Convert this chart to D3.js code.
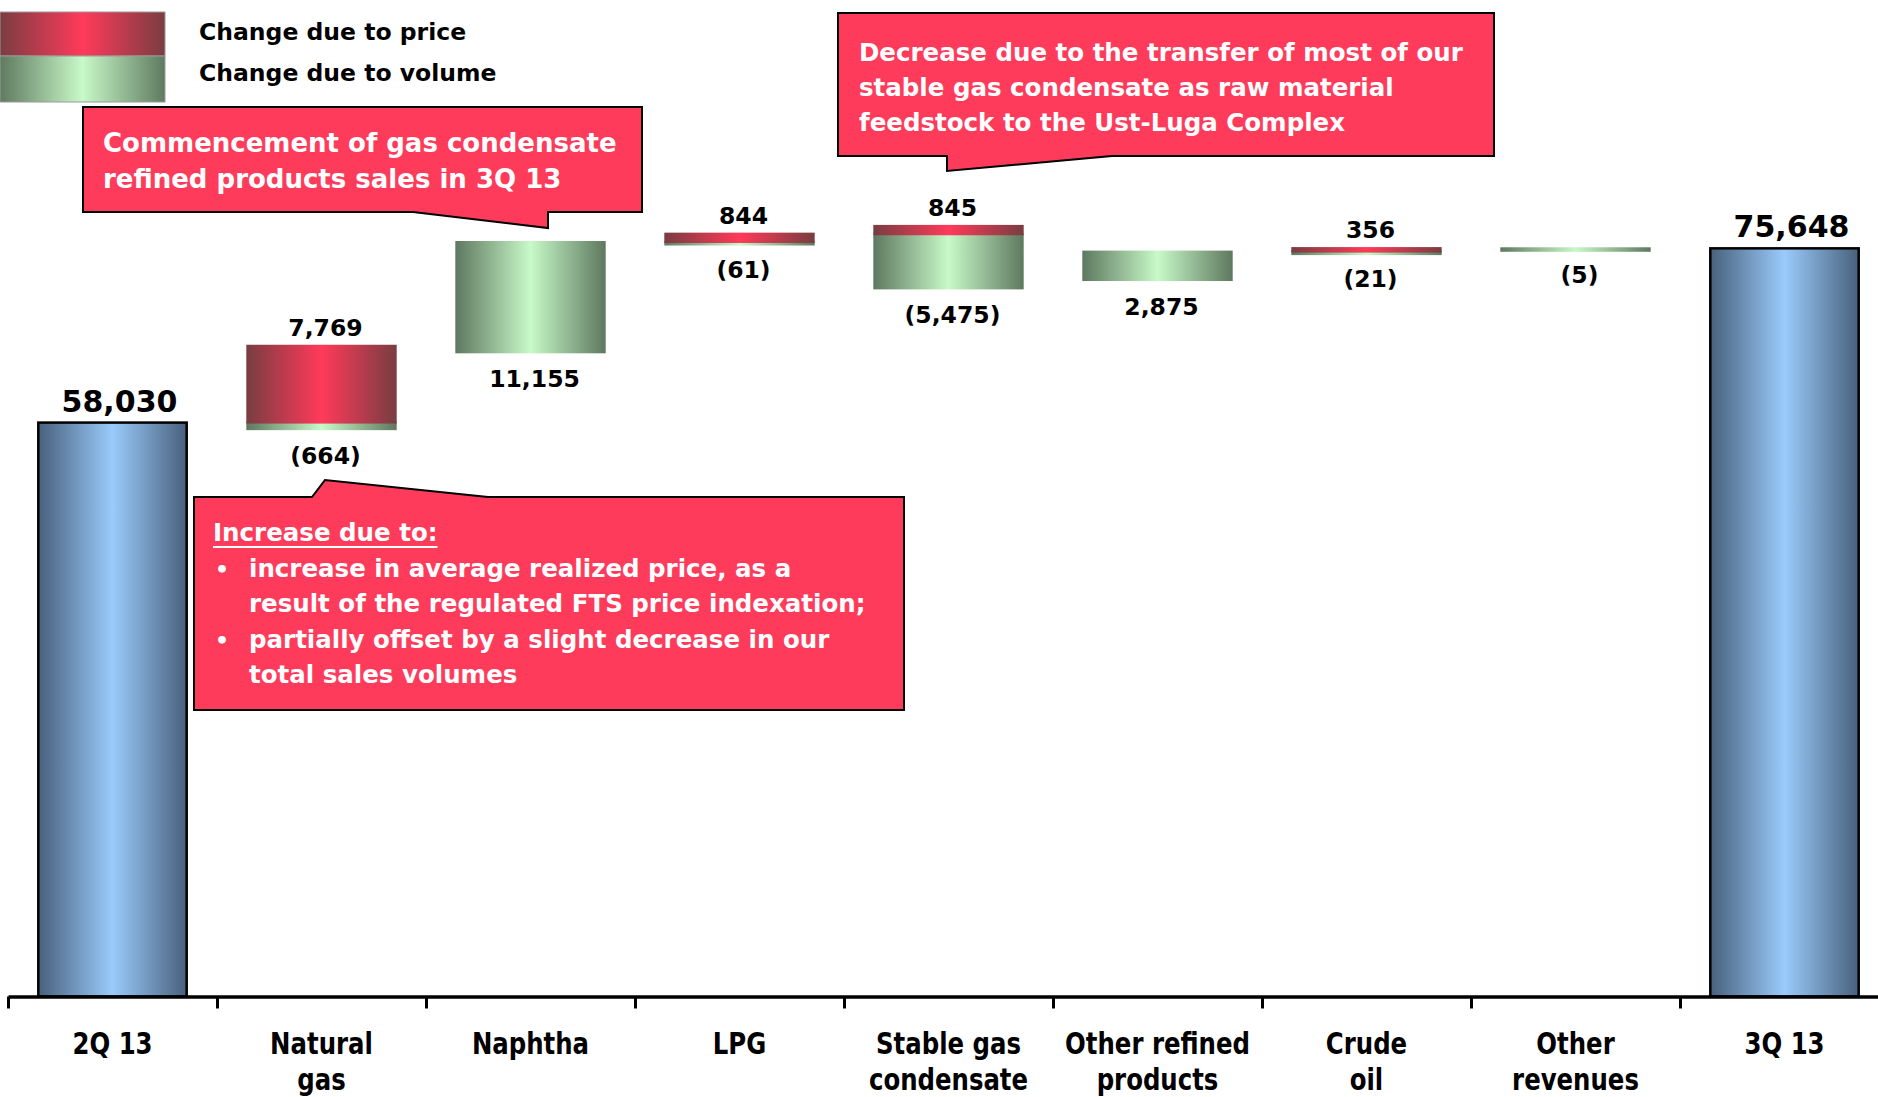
<!DOCTYPE html>
<html>
<head>
<meta charset="utf-8">
<script src="https://cdn.jsdelivr.net/npm/d3@7"></script>
<style>
  body { margin: 0; background: #fff; }
  svg { display: block; font-family: "DejaVu Sans", sans-serif; font-weight: bold; }
</style>
</head>
<body>
<svg></svg>
<script>
// Data
let categories = ["2Q 13", "Natural gas", "Naphtha", "LPG", "Stable gas condensate",
  "Other refined products", "Crude oil", "Other revenues", "3Q 13"];
let categoryLines = [["2Q 13"], ["Natural", "gas"], ["Naphtha"], ["LPG"], ["Stable gas", "condensate"],
  ["Other refined", "products"], ["Crude", "oil"], ["Other", "revenues"], ["3Q 13"]];
let startTotal = 58030;
let endTotal = 75648;
let stepNames = categories.slice(1, 8);
let priceChange = [7769, 0, 844, 845, 0, 356, 0];
let volumeChange = [-664, 11155, -61, -5475, 2875, -21, -5];
let legendLabels = ["Change due to price", "Change due to volume"];

let notes = [
  ["Commencement of gas condensate", "refined products sales in 3Q 13"],
  ["Decrease due to the transfer of most of our", "stable gas condensate as raw material",
   "feedstock to the Ust-Luga Complex"],
  ["increase in average realized price, as a", "result of the regulated FTS price indexation;",
   "partially offset by a slight decrease in our", "total sales volumes"]
];

let width = 1878;
let height = 1097;
let axisY = 996.5;
let calloutFill = "#ff3b5b";

let svg = d3.select("svg").attr("width", width).attr("height", height);

let xScale = d3.scaleBand().domain(categories).range([8, 1889])
  .paddingInner(0.29).paddingOuter(0.145);
let yScale = d3.scaleLinear().domain([0, 100000]).range([axisY, axisY - 989]);

let fmt = d3.format(",");
let label = (v) => (v < 0 ? "(" + fmt(-v) + ")" : fmt(v));

// gradients
let defs = svg.append("defs");
let addGradient = (id, edge, mid) => {
  let g = defs.append("linearGradient").attr("id", id)
    .attr("x1", 0).attr("x2", 1).attr("y1", 0).attr("y2", 0);
  g.append("stop").attr("offset", 0).attr("stop-color", edge);
  g.append("stop").attr("offset", 0.5).attr("stop-color", mid);
  g.append("stop").attr("offset", 1).attr("stop-color", edge);
};
addGradient("gTotal", "#48607c", "#9acbfb");
addGradient("gPrice", "#7a3d41", "#ff3a5a");
addGradient("gVolume", "#5f7a60", "#c8f9c8");

// build waterfall segments
let segments = [];
let level = startTotal;
stepNames.forEach((name, i) => {
  let base = level;
  segments.push({ name: name, kind: "volume", from: base, to: base + volumeChange[i] });
  segments.push({ name: name, kind: "price", from: base, to: base + priceChange[i] });
  level = base + priceChange[i] + volumeChange[i];
});

// callouts (annotation shapes)
let callouts = svg.append("g");
let shapes = [
  [[83, 107], [642, 107], [642, 212], [548, 212], [548, 228], [413, 212], [83, 212]],
  [[838, 13], [1494, 13], [1494, 156], [1112, 156], [947, 171], [947, 156], [838, 156]],
  [[194, 497], [312, 497], [325, 480], [488, 497], [904, 497], [904, 710], [194, 710]]
];
callouts.selectAll("path").data(shapes).enter().append("path")
  .attr("d", (d) => d3.line()(d) + "Z")
  .attr("fill", calloutFill).attr("stroke", "#000").attr("stroke-width", 2);

let noteText = (lines, x, y0, step, size) => {
  callouts.append("g").selectAll("text").data(lines).enter().append("text")
    .attr("x", x).attr("y", (d, i) => y0 + i * step)
    .attr("fill", "#fff").attr("font-size", size).text((d) => d);
};
noteText(notes[0], 103, 152, 36, 26);
noteText(notes[1], 859, 61, 35, 24.5);
let head = callouts.append("text").attr("x", 213).attr("y", 541)
  .attr("fill", "#fff").attr("font-size", 24.5).text("Increase due to:");
let hw = head.node().getComputedTextLength();
callouts.append("line").attr("x1", 213).attr("x2", 213 + hw).attr("y1", 547).attr("y2", 547)
  .attr("stroke", "#fff").attr("stroke-width", 2);
noteText(notes[2], 249, 577, 35.3, 24.5);
callouts.append("g").selectAll("text").data([0, 2]).enter().append("text")
  .attr("x", 215).attr("y", (d) => 577 + d * 35.3)
  .attr("fill", "#fff").attr("font-size", 22).text("\u2022");

// totals
let totals = [{ name: categories[0], value: startTotal }, { name: categories[8], value: endTotal }];
svg.selectAll(".total").data(totals).enter().append("rect")
  .attr("class", "total")
  .attr("x", (d) => xScale(d.name))
  .attr("width", xScale.bandwidth())
  .attr("y", (d) => yScale(d.value))
  .attr("height", (d) => yScale(0) - yScale(d.value))
  .attr("fill", "url(#gTotal)").attr("stroke", "#000").attr("stroke-width", 2.5);

svg.selectAll(".totalLabel").data(totals).enter().append("text")
  .attr("x", (d) => xScale(d.name) + xScale.bandwidth() / 2 + 7)
  .attr("y", (d) => yScale(d.value) - 11)
  .attr("text-anchor", "middle").attr("font-size", 30)
  .text((d) => fmt(d.value));

// change bars
svg.selectAll(".seg").data(segments.filter((d) => d.to !== d.from)).enter().append("rect")
  .attr("class", "seg")
  .attr("x", (d) => xScale(d.name))
  .attr("width", xScale.bandwidth())
  .attr("y", (d) => yScale(Math.max(d.from, d.to)))
  .attr("height", (d) => Math.max(2.5, Math.abs(yScale(d.from) - yScale(d.to))))
  .attr("fill", (d) => (d.kind === "price" ? "url(#gPrice)" : "url(#gVolume)"))
  .attr("stroke", (d) => (d.kind === "price" ? "url(#gPrice)" : "url(#gVolume)"))
  .attr("stroke-width", 2);

// change labels: price above, volume below
let priceLabels = segments.filter((d) => d.kind === "price" && d.to !== d.from);
svg.selectAll(".pLabel").data(priceLabels).enter().append("text")
  .attr("x", (d) => xScale(d.name) + xScale.bandwidth() / 2 + 4)
  .attr("y", (d) => yScale(d.to) - 10)
  .attr("text-anchor", "middle").attr("font-size", 23.5)
  .text((d) => label(d.to - d.from));

let volumeLabels = segments.filter((d) => d.kind === "volume");
svg.selectAll(".vLabel").data(volumeLabels).enter().append("text")
  .attr("x", (d) => xScale(d.name) + xScale.bandwidth() / 2 + 4)
  .attr("y", (d) => Math.max(yScale(d.from), yScale(d.to)) + 35)
  .attr("text-anchor", "middle").attr("font-size", 23.5)
  .text((d) => label(d.to - d.from));

// axis: boundary ticks
let boundary = d3.scaleLinear().domain([0, categories.length])
  .range([xScale.range()[0], xScale.range()[1]]);
let tickAxis = svg.append("g").attr("transform", "translate(0," + axisY + ")")
  .call(d3.axisBottom(boundary).ticks(categories.length).tickSize(12).tickSizeOuter(0).tickFormat(""));
tickAxis.select(".domain").attr("stroke-width", 3.5);
tickAxis.selectAll(".tick line").attr("stroke-width", 3);

// axis: category labels
let labelAxis = svg.append("g").attr("transform", "translate(0," + axisY + ")")
  .call(d3.axisBottom(xScale).tickSize(0).tickFormat(""));
labelAxis.select(".domain").remove();
labelAxis.selectAll(".tick").each(function (d, i) {
  let t = d3.select(this).append("text")
    .attr("transform", "scale(0.8,1)")
    .attr("text-anchor", "middle").attr("fill", "#000")
    .attr("font-size", 30.5).attr("font-weight", "bold")
    .attr("font-family", "DejaVu Sans, sans-serif");
  categoryLines[i].forEach((line, j) => {
    t.append("tspan").attr("x", 0).attr("y", 1054 - axisY + j * 36).text(line);
  });
});

// legend
let legend = svg.append("g");
legend.selectAll("rect").data(legendLabels).enter().append("rect")
  .attr("x", 0).attr("y", (d, i) => (i === 0 ? 12 : 56))
  .attr("width", 165).attr("height", (d, i) => (i === 0 ? 44 : 46))
  .attr("fill", (d, i) => (i === 0 ? "url(#gPrice)" : "url(#gVolume)"))
  .attr("stroke", "#9a9a9a").attr("stroke-width", 1);
legend.selectAll("text").data(legendLabels).enter().append("text")
  .attr("x", 199).attr("y", (d, i) => (i === 0 ? 40 : 81))
  .attr("font-size", 23.5).text((d) => d);
</script>
</body>
</html>
